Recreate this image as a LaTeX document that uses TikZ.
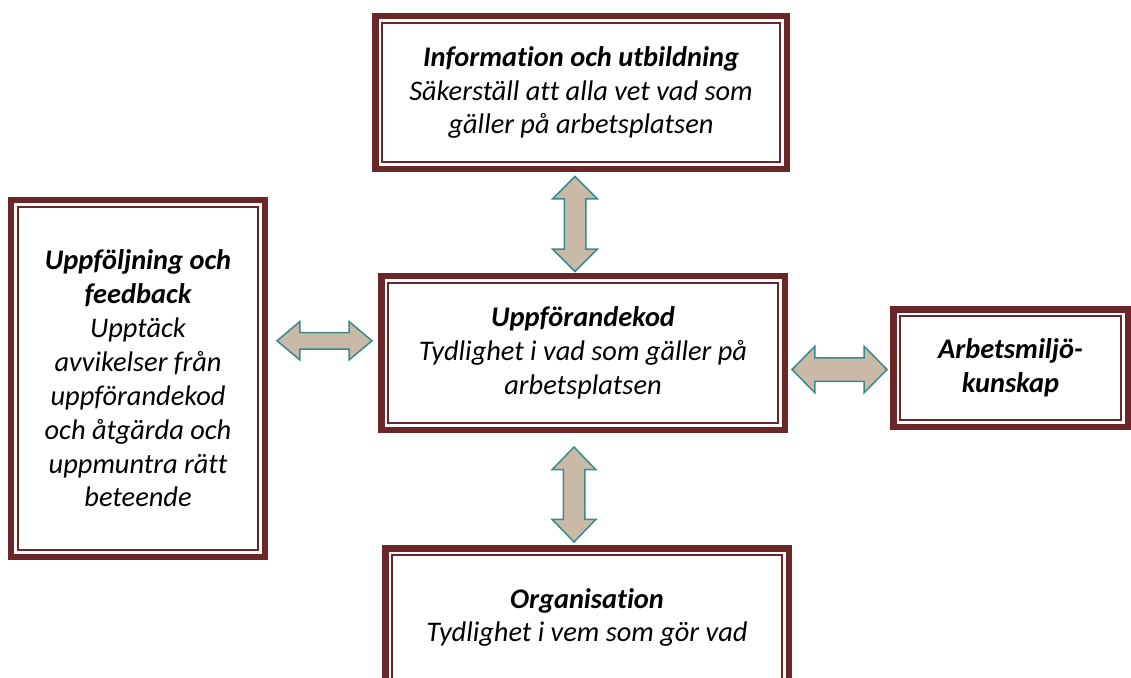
\documentclass[tikz,border=0pt]{standalone}
\usepackage{fontspec}
\setmainfont[Ligatures=NoCommon]{Carlito}
\usetikzlibrary{shapes.arrows,calc}
\definecolor{brd}{HTML}{6B2727}
\definecolor{tan}{HTML}{C9B9A7}
\definecolor{edge}{HTML}{3A8A8A}

\begin{document}
\begin{tikzpicture}[x=1bp, y=-1bp,
    main/.style = {draw=brd, line width=6.5bp, fill=white, outer sep=0pt, align=center,
        font=\fontsize{28.5}{34}\selectfont\itshape,
        path picture={\draw[brd, line width=2bp]
            ([shift={(6.5bp,-6.5bp)}]path picture bounding box.north west) rectangle
            ([shift={(-6.5bp,6.5bp)}]path picture bounding box.south east);}},
    both/.style = {double arrow, draw=edge, line width=1.5bp, fill=tan, inner xsep=0pt,
        minimum height=95bp}]
    \useasboundingbox (0,0) rectangle (1131,678);
    \clip (0,0) rectangle (1131,678);
    % boxes
    \node[main, minimum width=411.5bp, minimum height=152.5bp] (info) at (581,92.5)
        {\textbf{Information och utbildning}\\Säkerställ att alla vet vad som\\gäller på arbetsplatsen};
    \node[main, minimum width=403.5bp, minimum height=153.5bp] (kod) at (583,353)
        {\textbf{Uppförandekod}\\Tydlighet i vad som gäller på\\arbetsplatsen};
    \node[main, minimum width=403.5bp, minimum height=138.5bp] (org) at (587,617.5)
        {\textbf{Organisation}\\Tydlighet i vem som gör vad};
    \node[main, minimum width=253.5bp, minimum height=356.5bp] (fb) at (138,378.5)
        {\textbf{Uppföljning och}\\\textbf{feedback}\\Upptäck\\avvikelser från\\uppförandekod\\och åtgärda och\\uppmuntra rätt\\beteende};
    \node[main, minimum width=234.5bp, minimum height=117.5bp] (arb) at (1010.5,368)
        {\textbf{Arbetsmiljö-}\\\textbf{kunskap}};
    % arrows
    \node[both, rotate=90, inner ysep=10bp, double arrow head extend=11.5bp, double arrow tip angle=90]
        (a1) at ($(info.south)!0.5!(kod.north)+(-7,1.5)$) {};
    \node[both, rotate=90, inner ysep=10bp, double arrow head extend=11bp, double arrow tip angle=88]
        (a2) at ($(kod.south)!0.5!(org.north)+(-11,5.5)$) {};
    \node[both, inner ysep=7.5bp, double arrow head extend=11bp, double arrow tip angle=80]
        (a3) at ($(fb.east)!0.5!(kod.west)+(1.5,-25)$) {};
    \node[both, inner ysep=11bp, double arrow head extend=11.5bp, double arrow tip angle=91]
        (a4) at ($(kod.east)!0.5!(arb.west)+(0.5,9)$) {};
\end{tikzpicture}
\end{document}
